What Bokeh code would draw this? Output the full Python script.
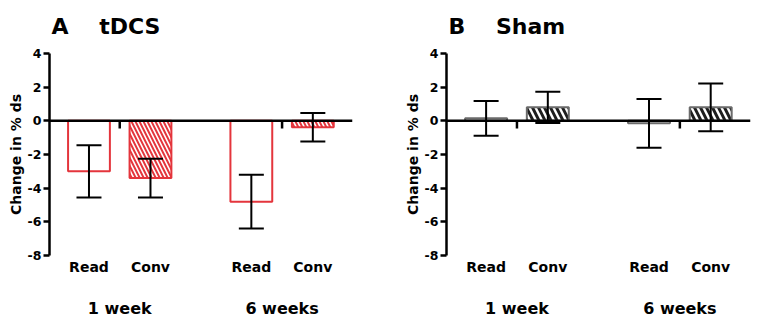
from bokeh.plotting import figure
from bokeh.models import (ColumnDataSource, Range1d, FixedTicker, LinearAxis,
                          Span, Whisker, TeeHead)
from bokeh.layouts import row
from bokeh.embed import file_html
from bokeh.resources import INLINE

# Change in % ds per condition (mean and error), Read / Conv at 1 and 6 weeks
groups = ["1 week", "6 weeks"]
conditions = ["Read", "Conv"]
tdcs_mean = [-3.0, -3.4, -4.8, -0.38]
tdcs_err = [1.55, 1.15, 1.6, 0.85]
sham_mean = [0.15, 0.8, -0.15, 0.8]
sham_err = [1.03, 0.93, 1.45, 1.42]
y_ticks = [4, 2, 0, -2, -4, -6, -8]

FONT = "DejaVu Sans"
INK = "black"
GROUP_GAP = 2.64
BAR_W = 0.68
X_START, X_END = 0.358, 5.285

xs = [1 + k + g * GROUP_GAP for g in range(len(groups)) for k in range(len(conditions))]
cat_labels = [c for _ in groups for c in conditions]
group_x = [1.5 + g * GROUP_GAP for g in range(len(groups))]


def panel(title, means, errs, width, right_border, edge, hatch_color, hatch_scale,
          hatch_weight, edge_width):
    p = figure(width=width, height=328, output_backend="svg", toolbar_location=None,
               x_range=Range1d(X_START, X_END), y_range=Range1d(-8, 4),
               min_border_left=49, min_border_right=right_border,
               min_border_top=53, min_border_bottom=73, x_axis_type=None)
    p.outline_line_color = None
    p.grid.visible = False
    p.background_fill_color = "white"
    p.border_fill_color = "white"

    p.title.text = title
    p.title.text_font = FONT
    p.title.text_font_size = "22px"
    p.title.text_font_style = "bold"
    p.title.text_color = INK
    p.title.align = "left"
    p.title.vertical_align = "top"
    p.title.offset = 2
    p.title.standoff = 26

    ya = p.yaxis[0]
    ya.ticker = FixedTicker(ticks=y_ticks)
    ya.major_label_overrides = {t: str(t) for t in y_ticks}
    ya.axis_label = "Change in % ds"
    ya.axis_label_text_font = FONT
    ya.axis_label_text_font_size = "14px"
    ya.axis_label_text_font_style = "bold"
    ya.axis_label_text_color = INK
    ya.axis_label_standoff = 1
    ya.major_label_text_font = FONT
    ya.major_label_text_font_size = "12.5px"
    ya.major_label_text_font_style = "bold"
    ya.major_label_text_color = INK
    ya.major_label_standoff = 2
    ya.major_tick_out = 6
    ya.major_tick_in = 0
    ya.minor_tick_out = 0
    ya.minor_tick_in = 0
    ya.axis_line_width = 2.5
    ya.axis_line_color = INK
    ya.major_tick_line_width = 2.5
    ya.major_tick_line_color = INK

    # condition labels under each bar
    ax1 = LinearAxis(ticker=FixedTicker(ticks=xs),
                     major_label_overrides={x: l for x, l in zip(xs, cat_labels)})
    # time-point labels under each pair
    ax2 = LinearAxis(ticker=FixedTicker(ticks=group_x),
                     major_label_overrides={x: l for x, l in zip(group_x, groups)})
    for ax, size, stand in ((ax1, "14px", 3), (ax2, "16px", 21)):
        ax.axis_line_alpha = 0
        ax.major_tick_out = 0
        ax.major_tick_in = 0
        ax.minor_tick_out = 0
        ax.minor_tick_in = 0
        ax.major_label_text_font = FONT
        ax.major_label_text_font_size = size
        ax.major_label_text_font_style = "bold"
        ax.major_label_text_color = INK
        ax.major_label_standoff = stand
        p.add_layout(ax, "below")

    src = ColumnDataSource(dict(
        x=xs, top=means,
        upper=[m + e for m, e in zip(means, errs)],
        lower=[m - e for m, e in zip(means, errs)],
    ))
    read = ColumnDataSource(dict(x=xs[0::2], top=means[0::2]))
    conv = ColumnDataSource(dict(x=xs[1::2], top=means[1::2]))

    p.vbar(x="x", top="top", bottom=0, width=BAR_W, source=read,
           fill_color="white", line_color=edge, line_width=edge_width)
    p.vbar(x="x", top="top", bottom=0, width=BAR_W, source=conv,
           fill_color="white", line_color=edge, line_width=edge_width,
           hatch_pattern="\\", hatch_color=hatch_color,
           hatch_scale=hatch_scale, hatch_weight=hatch_weight)

    p.add_layout(Span(location=0, dimension="width", line_color=INK, line_width=2.5))
    p.segment(x0=group_x, x1=group_x, y0=[0] * len(group_x), y1=[-0.45] * len(group_x),
              line_color=INK, line_width=2.5)

    wh = Whisker(base="x", upper="upper", lower="lower", source=src,
                 line_color=INK, line_width=2, level="overlay",
                 upper_head=TeeHead(size=25, line_width=2, line_color=INK),
                 lower_head=TeeHead(size=25, line_width=2, line_color=INK))
    p.add_layout(wh)
    return p


pa = panel("A\u00a0\u00a0\u00a0\u00a0tDCS", tdcs_mean, tdcs_err, 397, 45,
           "#e4353c", "#e4353c", 8, 2, 2)
pb = panel("B\u00a0\u00a0\u00a0\u00a0Sham", sham_mean, sham_err, 366, 13,
           "#6b6b6b", "#1e1e1e", 12, 3, 2)

layout = row(pa, pb)
open("out.html", "w").write(file_html(layout, INLINE))
